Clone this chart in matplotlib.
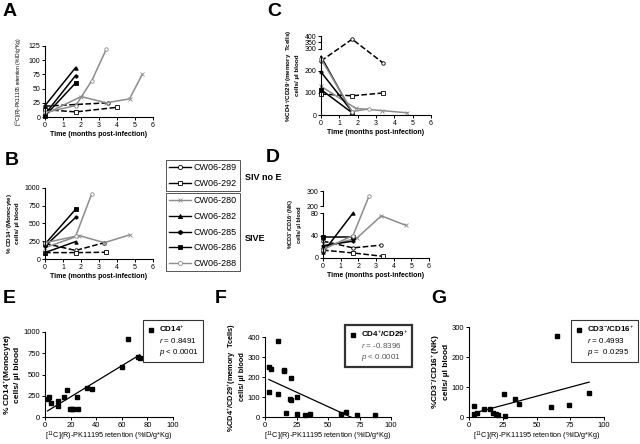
"""Multi-panel figure: PK11195 retention and blood cell counts over SIV infection."""

import matplotlib
matplotlib.use("Agg")
import matplotlib.pyplot as plt
import numpy as np
from matplotlib.lines import Line2D

plt.rcParams["font.family"] = ["Liberation Sans", "DejaVu Sans"]
plt.rcParams["mathtext.fontset"] = "custom"
plt.rcParams["mathtext.rm"] = "Liberation Sans"
plt.rcParams["mathtext.it"] = "Liberation Sans:italic"
plt.rcParams["mathtext.bf"] = "Liberation Sans:bold"

W, H = 640, 444
GRAY = "#8c8c8c"

ANIMALS = ["CW06-289", "CW06-292", "CW06-280", "CW06-282", "CW06-285", "CW06-286", "CW06-288"]

# A: [11C](R)-PK11195 retention over time
PET_T = [[0, 1.7, 3.5], [0, 1.7, 4.0], [0, 2.0, 3.4, 4.7, 5.4], [0, 1.7], [0, 1.7], [0, 1.7], [0, 1.7, 2.6, 3.4]]
PET_V = [[19, 22, 25], [13, 9, 17], [5, 36, 25, 32, 75], [20, 87], [5, 73], [2, 60], [8, 20, 64, 119]]

# B: CD14+ monocytes
MONO_T = [[0, 1.7, 3.3], [0, 1.7, 3.4], [0, 1.9, 3.3, 4.7], [0, 1.7], [0, 1.7], [0, 1.7], [0, 1.7, 2.6]]
MONO_V = [[220, 120, 230], [90, 90, 95], [160, 330, 230, 340], [90, 245], [180, 585], [210, 700], [230, 320, 920]]

# C: CD4+/CD29+ memory T cells
TCELL_T = [[0, 1.7, 3.4], [0, 1.7, 3.4], [0, 1.9, 3.3, 4.7], [0, 1.7], [0, 1.7], [0, 1.7], [0, 1.7, 2.6]]
TCELL_V = [[245, 375, 235], [95, 87, 100], [130, 30, 20, 10], [265, 10], [195, 15], [115, 10], [255, 15, 28]]

# D: CD3-/CD16+ NK cells
NK_T = [[0, 1.7, 3.3], [0, 1.7, 3.4], [0, 1.9, 3.3, 4.7], [0, 1.7], [0, 1.7], [0, 1.7], [0, 1.7, 2.6]]
NK_V = [[30, 18, 23], [14, 9, 3], [20, 35, 75, 58], [10, 80], [22, 30], [38, 38], [15, 40, 265]]

# E-G: correlations with retention
RET_E = [2, 3.5, 5, 10, 10.5, 14.5, 17.5, 19.5, 21, 22, 25, 26, 32.5, 36.5, 60, 64.5, 73, 74]
MONO_E = [215, 230, 170, 125, 185, 230, 320, 95, 100, 95, 240, 95, 345, 335, 590, 920, 710, 700]
RET_F = [3, 5, 10, 3, 10, 15, 15, 21, 20, 21, 25, 17, 25, 32, 36, 60, 64, 73, 87]
TCELL_F = [250, 240, 380, 125, 115, 235, 230, 195, 90, 85, 100, 20, 15, 10, 15, 15, 25, 10, 10]
RET_G = [3.7, 3.7, 6.2, 11, 15.3, 17.8, 20, 21.5, 25.7, 26.5, 34, 37, 61, 65, 74, 89]
NK_G = [38, 10, 15, 27, 27, 15, 10, 8, 78, 5, 61, 44, 32, 269, 39, 80]

STYLES = [
    dict(color="k", ls="--", marker="o", mfc="white"),
    dict(color="k", ls="--", marker="s", mfc="white"),
    dict(color=GRAY, ls="-", marker="x"),
    dict(color="k", ls="-", marker="^"),
    dict(color="k", ls="-", marker="h"),
    dict(color="k", ls="-", marker="s"),
    dict(color=GRAY, ls="-", marker="o", mfc="white"),
]

RET_LABEL = "[$^{11}$C](R)-PK11195 retention (%ID/g*Kg)"


def pix(l, t, r, b):
    return [l / W, 1 - b / H, (r - l) / W, (b - t) / H]


def style_axes(ax, size=5):
    for s in ("top", "right"):
        ax.spines[s].set_visible(False)
    for s in ("left", "bottom"):
        ax.spines[s].set_linewidth(0.8)
    ax.tick_params(direction="out", length=2.5, width=0.7, labelsize=size, pad=1)


fig = plt.figure(figsize=(W / 100, H / 100), dpi=100)


def time_panel(rect, T, V, ylim, yticks, ylabel, ylab_size, ylab_weight="bold", scale=None):
    ax = fig.add_axes(pix(*rect))
    if scale is not None:
        ax.set_yscale("function", functions=scale)
    for t, v, st in zip(T, V, STYLES):
        ax.plot(t, v, lw=1.1, ms=2.5, mew=0.6, clip_on=False, **st)
    ax.set_xlim(0, 6)
    ax.set_ylim(*ylim)
    ax.set_xticks(range(7))
    ax.set_yticks(yticks)
    style_axes(ax)
    ax.set_xlabel("Time (months post-infection)", fontsize=5, fontweight="bold", labelpad=1.5)
    ax.set_ylabel(ylabel, fontsize=ylab_size, fontweight=ylab_weight, labelpad=3)
    return ax


# A
time_panel((45, 46, 153, 117), PET_T, PET_V, (0, 125), [0, 25, 50, 75, 100, 125],
           RET_LABEL, 3.6, ylab_weight="normal")

# B
time_panel((45, 188, 153, 259), MONO_T, MONO_V, (0, 1000), [0, 250, 500, 750, 1000],
           "% CD14$^{+}$(Monocyte)\ncells/ µl blood", 4.5)


# C: compressed top segment above 300
def c_fwd(v):
    v = np.asarray(v, dtype=float)
    return np.where(v <= 300, v, 300 + (v - 300) * 0.58)


def c_inv(u):
    u = np.asarray(u, dtype=float)
    return np.where(u <= 300, u, 300 + (u - 300) / 0.58)


axC = time_panel((321, 36, 431, 115), TCELL_T, TCELL_V, (0, 400), [0, 100, 200, 300, 350, 400],
                 "%CD4$^{+}$/CD29$^{+}$(memory  Tcells)\ncells/ µl blood", 4.5, scale=(c_fwd, c_inv))
axC.spines["left"].set_bounds(0, 265)
axC.plot([0, 0], [300, 400], color="k", lw=0.8, clip_on=False)


# D: broken axis 0-80 and 200-300
def d_fwd(v):
    v = np.asarray(v, dtype=float)
    return np.where(v <= 80, v,
                    np.where(v <= 200, 80 + (v - 80) * 0.104, 92.5 + (v - 200) * 0.267))


def d_inv(u):
    u = np.asarray(u, dtype=float)
    return np.where(u <= 80, u,
                    np.where(u <= 92.5, 80 + (u - 80) / 0.104, 200 + (u - 92.5) / 0.267))


axD = time_panel((323, 191, 429, 258), NK_T, NK_V, (0, 300), [0, 40, 80, 200, 300],
                 "%CD3$^{-}$/CD16$^{+}$(NK)\ncells/ µl blood", 4.0, scale=(d_fwd, d_inv))
axD.spines["left"].set_bounds(0, 80)
axD.plot([0, 0], [200, 300], color="k", lw=0.8, clip_on=False)

# animal legend
handles = [Line2D([], [], color=st["color"], marker=st["marker"], mfc=st.get("mfc", st["color"]),
                  ls="-", lw=1.0, ms=3, mew=0.6) for st in STYLES]
leg_kw = dict(loc="upper left", fancybox=False, edgecolor="#555555", fontsize=6.5,
              handlelength=2.4, handletextpad=0.3, labelspacing=0.75, borderpad=0.35,
              borderaxespad=0, framealpha=1)
leg1 = fig.legend(handles[:2], ANIMALS[:2], bbox_to_anchor=(166 / W, 1 - 160 / H), **leg_kw)
leg1.get_frame().set_linewidth(0.7)
leg2 = fig.legend(handles[2:], ANIMALS[2:], bbox_to_anchor=(166 / W, 1 - 193 / H), **leg_kw)
leg2.get_frame().set_linewidth(0.7)
fig.text(245 / W, 1 - 177 / H, "SIV no E", fontsize=6.5, fontweight="bold", va="center")
fig.text(245 / W, 1 - 238 / H, "SIVE", fontsize=6.5, fontweight="bold", va="center")


def scatter_panel(rect, x, y, xticks, ylim, yticks, ylabel, ylab_size, legend_labels, legend_box,
                  legend_color="k", frame_lw=0.8):
    ax = fig.add_axes(pix(*rect))
    ax.plot(x, y, ls="none", marker="s", color="k", ms=3.2, clip_on=False)
    k, b = np.polyfit(x, y, 1)
    xs = np.array([min(x), max(x)])
    ax.plot(xs, k * xs + b, color="k", lw=0.9)
    ax.set_xlim(0, 100)
    ax.set_ylim(*ylim)
    ax.set_xticks(xticks)
    ax.set_yticks(yticks)
    style_axes(ax, size=5.5)
    ax.set_xlabel(RET_LABEL, fontsize=5.2, labelpad=0.5)
    ax.set_ylabel(ylabel, fontsize=ylab_size, fontweight="bold", labelpad=1.5, linespacing=1.1)
    hs = [Line2D([], [], ls="none", marker="s", color="k", ms=3),
          Line2D([], [], ls="none"), Line2D([], [], ls="none")]
    leg = ax.legend(hs, legend_labels, loc="upper right",
                    bbox_to_anchor=(legend_box[0] / W, 1 - legend_box[1] / H),
                    bbox_transform=fig.transFigure, fancybox=False, edgecolor="#333333",
                    fontsize=5.8, handlelength=1.0, handletextpad=0.5, labelspacing=0.2,
                    borderpad=0.5, borderaxespad=0, framealpha=1)
    leg.get_frame().set_linewidth(frame_lw)
    leg.get_texts()[0].set_fontweight("bold")
    for t in leg.get_texts()[1:]:
        t.set_color(legend_color)
    return ax


scatter_panel((45, 332, 173, 417), RET_E, MONO_E, [0, 20, 40, 60, 80, 100], (0, 1000),
              [0, 250, 500, 750, 1000], "% CD14$^{+}$(Monocyte)\ncells/ µl blood", 6.0,
              ["CD14$^{+}$", "$r$ = 0.8491", "$p$ < 0.0001"], (203, 320))
scatter_panel((265, 337, 391, 417), RET_F, TCELL_F, [0, 25, 50, 75, 100], (0, 400),
              [0, 100, 200, 300, 400], "%CD4$^{+}$/CD29$^{+}$(memory  Tcells)\ncells/ µl blood", 5.3,
              ["CD4$^{+}$/CD29$^{+}$", "$r$ = -0.8396", "$p$ < 0.0001"], (412, 325),
              legend_color="#555555", frame_lw=1.6)
scatter_panel((469, 327, 604, 417), RET_G, NK_G, [0, 25, 50, 75, 100], (0, 300),
              [0, 100, 200, 300], "%CD3$^{-}$/CD16$^{+}$(NK)\ncells/ µl blood", 6.0,
              ["CD3$^{-}$/CD16$^{+}$", "$r$ = 0.4993", "$p$ =  0.0295"], (638, 320))

# panel letters
for letter, (x, y) in {"A": (3, 3), "B": (5, 152), "C": (267, 3), "D": (266, 149),
                       "E": (3, 290), "F": (215, 290), "G": (431, 290)}.items():
    fig.text(x / W, 1 - y / H, letter, fontsize=14, fontweight="bold", va="top", ha="left")

fig.savefig("out.png", dpi=100)
